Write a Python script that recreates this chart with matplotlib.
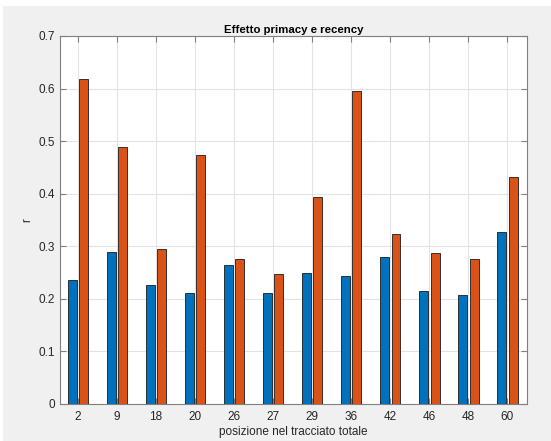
import matplotlib
matplotlib.use("Agg")
import matplotlib.pyplot as plt
from matplotlib.patches import Rectangle
import numpy as np

categories = ["2", "9", "18", "20", "26", "27", "29", "36", "42", "46", "48", "60"]
primacy = [0.235, 0.289, 0.227, 0.212, 0.264, 0.212, 0.250, 0.243, 0.280, 0.214, 0.208, 0.328]
recency = [0.619, 0.489, 0.295, 0.473, 0.275, 0.248, 0.393, 0.596, 0.324, 0.288, 0.276, 0.431]
yticks = [0, 0.1, 0.2, 0.3, 0.4, 0.5, 0.6, 0.7]

plt.rcParams['font.family'] = ['Liberation Sans', 'DejaVu Sans']

W, H = 551, 441
fig = plt.figure(figsize=(W/100, H/100), dpi=100, facecolor='white')
# grey figure area with thin white strip on top/left, as in the reference
fig.patches.append(Rectangle((3/W, 0), 1 - 3/W, 1 - 6/H, transform=fig.transFigure,
                             facecolor='#f0f0f0', edgecolor='none', zorder=-10))

ax = fig.add_axes([60/W, (H-404)/H, (527-60)/W, (404-36)/H])
ax.set_facecolor('white')

x = np.arange(1, len(categories) + 1)
w = 0.23
off = 0.145
ax.bar(x - off, primacy, width=w, color='#0072BD', edgecolor='#1a1a1a', linewidth=0.6, zorder=3)
ax.bar(x + off, recency, width=w, color='#D95319', edgecolor='#1a1a1a', linewidth=0.6, zorder=3)

ax.set_xlim(0.54, 12.5)
ax.set_ylim(0, 0.7)
ax.set_xticks(x)
ax.set_xticklabels(categories)
ax.set_yticks(yticks)
ax.set_yticklabels([f"{v:g}" for v in yticks])
ax.grid(True, color='#e3e3e3', linewidth=0.8, zorder=0)
ax.set_axisbelow(True)
for s in ax.spines.values():
    s.set_color('#808080')
    s.set_linewidth(0.8)
ax.tick_params(direction='in', length=4, color='#808080', labelcolor='#262626',
               labelsize=8.5, top=True, right=True)
ax.tick_params(axis='x', pad=5)
ax.tick_params(axis='y', pad=3.5)
ax.set_xlabel('posizione nel tracciato totale', fontsize=8.5, color='#262626', labelpad=2)
ax.set_ylabel('r', fontsize=8.5, color='#262626', labelpad=4)
ax.set_title('Effetto primacy e recency', fontsize=8.2, fontweight='bold', color='#000000', pad=2)

fig.savefig('out.png', dpi=100, facecolor=fig.get_facecolor())
